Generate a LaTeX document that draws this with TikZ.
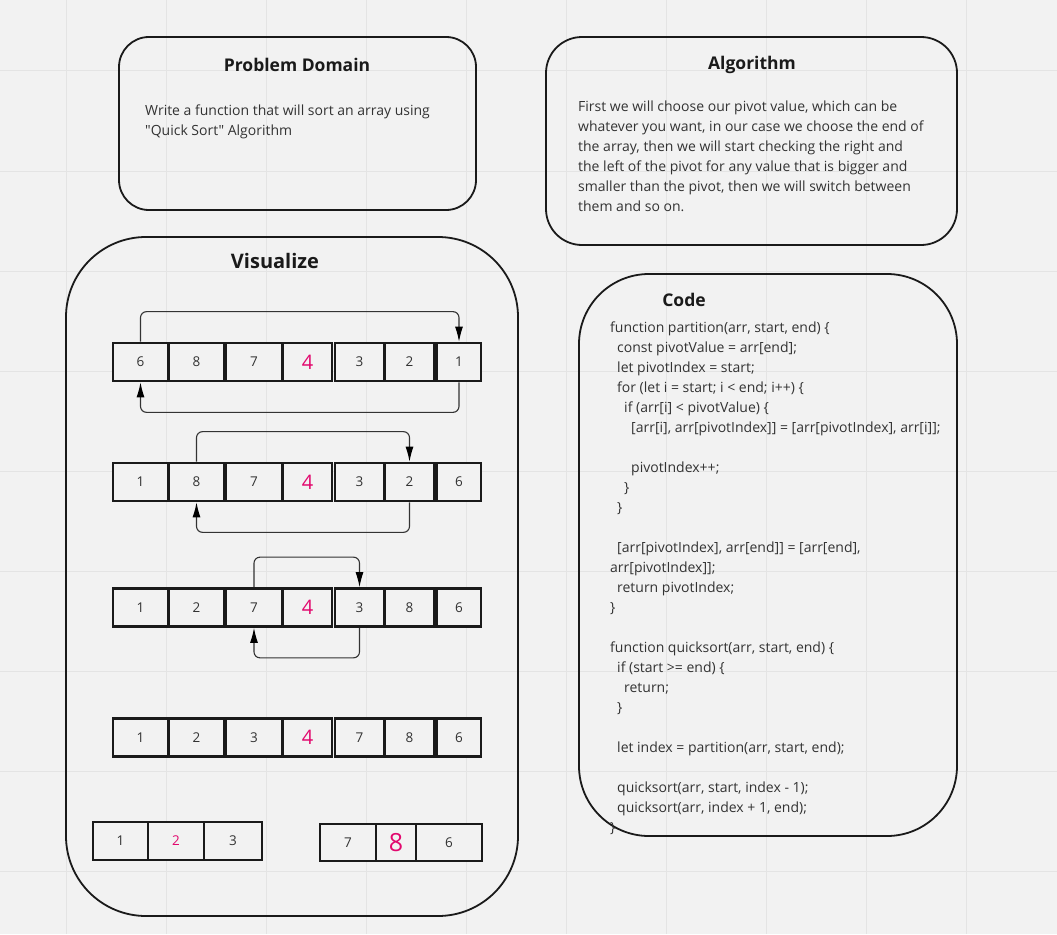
\documentclass[tikz,border=0pt]{standalone}
\usepackage{fontspec}
\setmainfont{Open Sans}[Ligatures=TeXOff]
\usetikzlibrary{arrows.meta,positioning}

\definecolor{bg}{HTML}{F2F2F2}
\definecolor{gridline}{HTML}{E4E4E4}
\definecolor{ink}{HTML}{333333}
\definecolor{frame}{HTML}{1A1A1A}
\definecolor{pivotpink}{HTML}{E2086E}

\tikzset{
  box/.style={draw=frame, line width=1.8pt},
  heading/.style={font=\bfseries\fontsize{17.5}{20}\selectfont, text=frame},
  body/.style={font=\fontsize{14}{20}\selectfont, text=ink, align=left, inner sep=0pt},
  cell/.style={draw=frame, line width=2.7pt, fill=bg, minimum height=38pt, inner sep=0pt,
    font=\fontsize{13.5}{14}\selectfont, text=ink},
  link/.style={draw=ink, line width=1.1pt, rounded corners=6pt,
    -{Latex[length=15pt,width=8pt,black]}}
}
\newcommand{\pivot}[1]{{\color{pivotpink}\fontsize{20}{20}\selectfont #1}}

\begin{document}
\begin{tikzpicture}[x=1pt, y=-1pt]
% page and grid
\fill[bg] (0,0) rectangle (1057,934);
\useasboundingbox (0,0) rectangle (1057,934);
\foreach \gx in {66,166,...,966}
  \draw[gridline, line width=1pt] (\gx,0) -- (\gx,934);
\foreach \gy in {71,171,...,871}
  \draw[gridline, line width=1pt] (0,\gy) -- (1057,\gy);

% the four boxes
\draw[box, rounded corners=30pt] (119,37) rectangle (476,210);
\draw[box, rounded corners=36pt] (546,37) rectangle (957,245);
\draw[box, rounded corners=80pt] (66,237) rectangle (518,916);
\draw[box, rounded corners=70pt] (579,274) rectangle (957,836);

\node[heading] (problem) at (297,65) {Problem Domain};
\node[heading] (algo) at (752,65) {Algorithm};
\node[heading, font=\bfseries\fontsize{20}{22}\selectfont] (visual) at (275,261) {Visualize};
\node[heading] (code) at (684,300) {Code};

\node[body, anchor=north west] (problemtext) at (145,105) {Write a function that will sort an array using\\
"Quick Sort" Algorithm};

\node[body, anchor=north west] (algotext) at (578,101) {First we will choose our pivot value, which can be\\
whatever you want, in our case we choose the end of\\
the array, then we will start checking the right and\\
the left of the pivot for any value that is bigger and\\
smaller than the pivot, then we will switch between\\
them and so on.};

\node[body, anchor=north west] (codetext) at (610,322) {function partition(arr, start, end) \{\\
\hspace*{7pt}const pivotValue = arr[end];\\
\hspace*{7pt}let pivotIndex = start;\\
\hspace*{7pt}for (let i = start; i < end; i++) \{\\
\hspace*{14pt}if (arr[i] < pivotValue) \{\\
\hspace*{21pt}[arr[i], arr[pivotIndex]] = [arr[pivotIndex], arr[i]];\\
\mbox{}\\
\hspace*{21pt}pivotIndex++;\\
\hspace*{14pt}\}\\
\hspace*{7pt}\}\\
\mbox{}\\
\hspace*{7pt}[arr[pivotIndex], arr[end]] = [arr[end],\\
arr[pivotIndex]];\\
\hspace*{7pt}return pivotIndex;\\
\}\\
\mbox{}\\
function quicksort(arr, start, end) \{\\
\hspace*{7pt}if (start >= end) \{\\
\hspace*{14pt}return;\\
\hspace*{7pt}\}\\
\mbox{}\\
\hspace*{7pt}let index = partition(arr, start, end);\\
\mbox{}\\
\hspace*{7pt}quicksort(arr, start, index - 1);\\
\hspace*{7pt}quicksort(arr, index + 1, end);\\
\}};

% array rows
\foreach \x/\w/\v [count=\i] in {140.5/55/6, 196.5/55/8, 254/56/7, 307.5/49/{\pivot{4}}, 359.5/49/3, 409.5/50/2, 459/44/1}
  \node[cell, minimum width=\w pt] (ra-\i) at (\x,362) {\v};
\foreach \x/\w/\v [count=\i] in {140.5/55/1, 196.5/55/8, 254/56/7, 307.5/49/{\pivot{4}}, 359.5/49/3, 409.5/50/2, 459/44/6}
  \node[cell, minimum width=\w pt] (rb-\i) at (\x,482) {\v};
\foreach \x/\w/\v [count=\i] in {140.5/55/1, 196.5/55/2, 254/56/7, 307.5/49/{\pivot{4}}, 359.5/49/3, 409.5/50/8, 459/44/6}
  \node[cell, minimum width=\w pt] (rc-\i) at (\x,607.5) {\v};
\foreach \x/\w/\v [count=\i] in {140.5/55/1, 196.5/55/2, 254/56/3, 307.5/49/{\pivot{4}}, 359.5/49/7, 409.5/50/8, 459/44/6}
  \node[cell, minimum width=\w pt] (rd-\i) at (\x,737.5) {\v};

\foreach \x/\w/\v [count=\i] in {120.5/55/1, 176/56/{\color{pivotpink}2}, 233/58/3}
  \node[cell, minimum width=\w pt] (le-\i) at (\x,841) {\v};
\foreach \x/\w/\v [count=\i] in {348/56/7, 396/40/{\pivot{\fontsize{25}{25}\selectfont 8}}, 449/66/6}
  \node[cell, minimum width=\w pt, minimum height=37pt] (ri-\i) at (\x,842.5) {\v};

% swaps
\draw[link] (ra-1.north) -- ++(0,-30) -| (ra-7.north);
\draw[link] (ra-7.south) -- ++(0,30) -| (ra-1.south);
\draw[link] (rb-2.north) -- ++(0,-30) -| (rb-6.north);
\draw[link] (rb-6.south) -- ++(0,30) -| (rb-2.south);
\draw[link] (rc-3.north) -- ++(0,-30) -| (rc-5.north);
\draw[link] (rc-5.south) -- ++(0,30) -| (rc-3.south);
\end{tikzpicture}
\end{document}
